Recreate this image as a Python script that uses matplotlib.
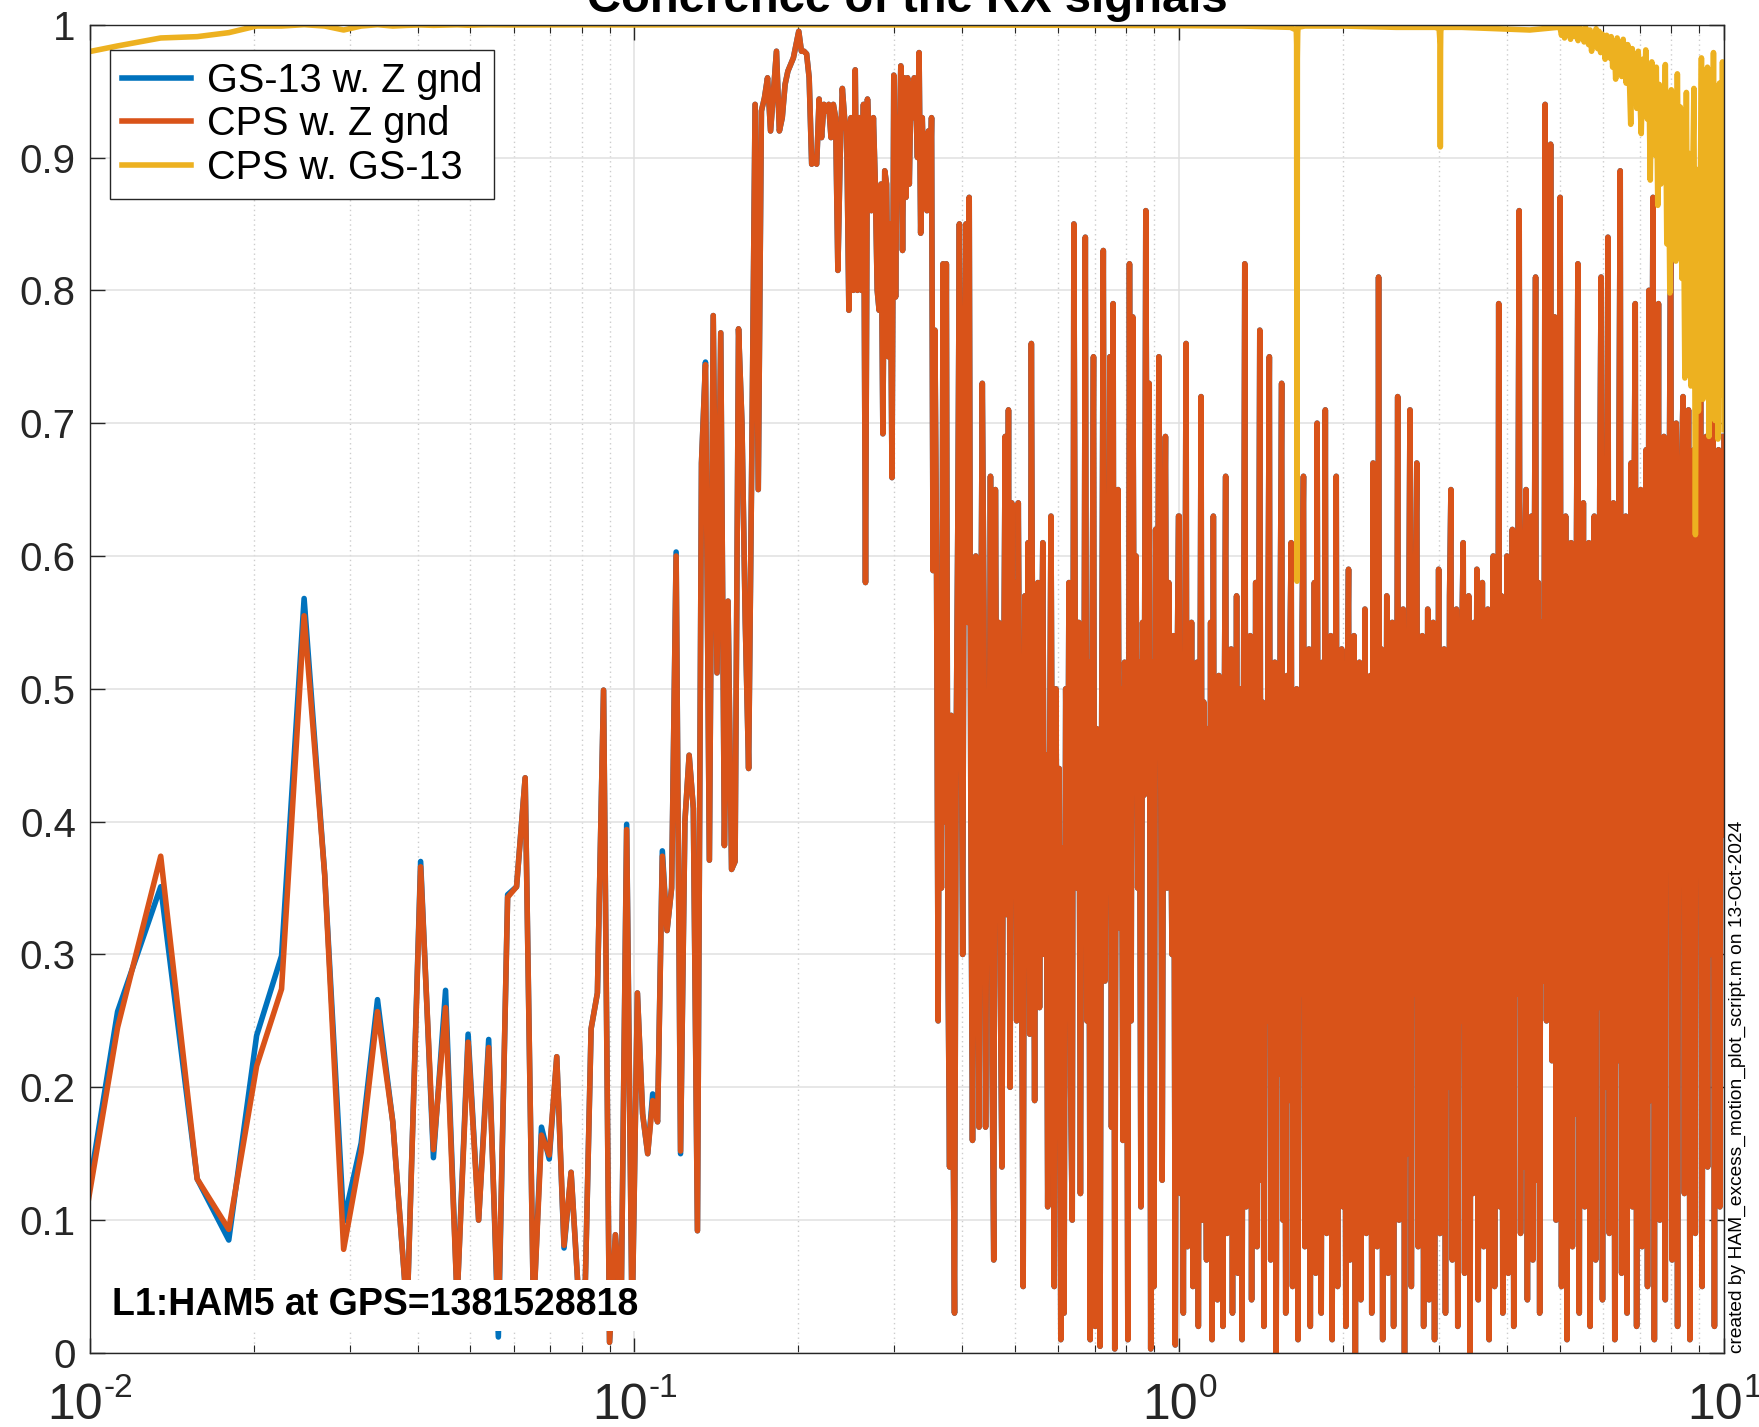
import numpy as np
import matplotlib
matplotlib.use('Agg')
import matplotlib.pyplot as plt
from matplotlib.ticker import FixedLocator, LogLocator, NullFormatter, NullLocator
from matplotlib.transforms import blended_transform_factory, offset_copy

plt.rcParams['font.family'] = ['Liberation Sans', 'DejaVu Sans']

BLUE = '#0072BD'
ORANGE = '#D95319'
YELLOW = '#EDB120'
INK = '#262626'

DF = 0.00225  # bin width of the coherence estimate (Hz)

# --- low frequency bins, k = 4 .. 157 (f = k * DF) ---
orange_lo = [
    0.01, 0.245, 0.374, 0.131, 0.093, 0.216, 0.274, 0.555, 0.36, 0.078,
    0.151, 0.257, 0.174, 0.03, 0.366, 0.153, 0.26, 0.04, 0.234, 0.10,
    0.23, 0.02, 0.343, 0.351, 0.433, 0.03, 0.164, 0.149, 0.223, 0.081,
    0.136, 0.05, 0.03, 0.244, 0.271, 0.499, 0.008, 0.089, 0.03, 0.394,
    0.02, 0.271, 0.18, 0.15, 0.19, 0.174, 0.374, 0.318, 0.35, 0.60,
    0.152, 0.40, 0.45, 0.41, 0.092, 0.67, 0.744, 0.371, 0.781, 0.512,
    0.768, 0.382, 0.566, 0.364, 0.37, 0.771, 0.70, 0.55, 0.44, 0.68,
    0.94, 0.65, 0.935, 0.945, 0.96, 0.92, 0.95, 0.98, 0.92, 0.93,
    0.955, 0.965, 0.97, 0.975, 0.985, 0.995, 0.98, 0.98, 0.978, 0.96,
    0.895, 0.897, 0.895, 0.944, 0.915, 0.94, 0.935, 0.94, 0.915, 0.94,
    0.93, 0.815, 0.90, 0.952, 0.93, 0.92, 0.785, 0.93, 0.80, 0.966,
    0.80, 0.93, 0.80, 0.94, 0.58, 0.944, 0.90, 0.86, 0.93, 0.88,
    0.80, 0.785, 0.88, 0.692, 0.89, 0.88, 0.75, 0.85, 0.659, 0.962,
    0.795, 0.93, 0.90, 0.969, 0.83, 0.96, 0.87, 0.96, 0.88, 0.955,
    0.93, 0.96, 0.94, 0.90, 0.979, 0.843, 0.93, 0.88, 0.91, 0.86,
    0.92, 0.86, 0.93, 0.589,
]

# GS-13 vs ground, k = 4 .. 60 (above that it sits under the CPS curve)
blue_lo = [
    0.01, 0.257, 0.351, 0.131, 0.085, 0.239, 0.299, 0.568, 0.36, 0.099,
    0.158, 0.266, 0.174, 0.03, 0.370, 0.147, 0.273, 0.04, 0.24, 0.10,
    0.236, 0.012, 0.345, 0.351, 0.433, 0.03, 0.17, 0.146, 0.223, 0.079,
    0.136, 0.05, 0.03, 0.244, 0.271, 0.499, 0.008, 0.089, 0.03, 0.398,
    0.02, 0.271, 0.18, 0.15, 0.195, 0.174, 0.378, 0.318, 0.35, 0.603,
    0.15, 0.40, 0.45, 0.41, 0.092, 0.67, 0.746,
]

# --- 0.356 .. 1 Hz, coherence in percent ---
orange_mid = [
    77, 60, 25, 56, 35, 82, 40, 82, 30, 14,
    48, 20, 3, 45, 62, 85, 52, 30, 70, 85,
    55, 87, 40, 16, 38, 60, 45, 17, 50, 73,
    56, 17, 45, 30, 66, 22, 7, 65, 40, 55,
    28, 14, 48, 69, 33, 71, 20, 64, 38, 58,
    25, 64, 42, 30, 5, 57, 35, 61, 24, 76,
    44, 19, 52, 58, 26, 48, 61, 30, 45, 11,
    40, 63, 33, 5, 50, 28, 44, 1, 38, 3,
    50, 30, 58, 20, 10, 85, 48, 35, 55, 12,
    50, 37, 84, 25, 52, 1, 49, 75, 2, 47,
    30, 0.5, 47, 83, 28, 50, 36, 75, 17, 79,
    0.3, 55, 65, 32, 50, 16, 52, 46, 1, 82,
    25, 78, 45, 60, 35, 52, 11, 55, 42, 86,
    50, 73, 0.3, 52, 5, 62, 45, 75, 48, 13,
    52, 69, 35, 58, 46, 30, 54, 0.6, 48, 63,
]

# --- 1 .. 10 Hz, coherence in percent ---
orange_hi = [
    63, 12, 48, 3, 44, 76, 8, 50, 22, 55, 5, 46, 18, 52, 2, 41, 72, 10, 49, 26,
    7, 47, 15, 55, 1, 63, 20, 45, 4, 51, 12, 43, 2, 48, 66, 9, 46, 18, 53, 3,
    48, 14, 57, 6, 44, 50, 1, 45, 82, 11, 49, 24, 54, 4, 46, 17, 58, 8, 47, 77,
    13, 49, 2, 45, 25, 54, 75, 7, 48, 16, 52, 0, 44, 21, 56, 73, 10, 47, 3, 51,
    19, 52, 61, 5, 46, 14, 50, 1, 47, 27, 55, 66, 8, 45, 18, 53, 2, 49, 12, 58,
    6, 70, 23, 48, 3, 52, 15, 71, 9, 46, 26, 54, 1, 49, 17, 66, 5, 45, 21, 53,
    11, 50, 2, 47, 59, 7, 45, 19, 54, 0, 48, 26, 52, 4, 46, 14, 56, 9, 50, 22,
    51, 3, 67, 16, 48, 8, 81, 24, 53, 1, 47, 18, 57, 6, 50, 12, 55, 2, 48, 29,
    72, 10, 49, 21, 56, 0, 46, 15, 52, 71, 5, 48, 27, 58, 67, 8, 51, 13, 54, 2,
    47, 23, 56, 4, 51, 17, 55, 1, 48, 28, 59, 9, 50, 14, 53, 3, 49, 20, 57, 65,
    7, 52, 16, 56, 2, 49, 25, 54, 61, 6, 48, 19, 57, 0, 51, 12, 55, 24, 59, 4,
    50, 15, 58, 8, 53, 22, 56, 1, 52, 30, 60, 5, 51, 18, 79, 11, 57, 3, 54, 26,
    60, 6, 54, 19, 62, 2, 57, 27, 58, 86, 9, 55, 14, 60, 65, 4, 57, 23, 63, 7,
    56, 81, 13, 58, 3, 55, 28, 36, 94, 25, 60, 31, 91, 22, 61, 78, 10, 59, 17, 87,
    5, 58, 21, 63, 1, 59, 29, 61, 8, 57, 18, 62, 82, 3, 60, 24, 64, 11, 58, 30,
    61, 2, 59, 16, 63, 7, 58, 26, 65, 81, 4, 60, 20, 62, 84, 9, 59, 33, 64, 1,
    60, 22, 66, 89, 6, 61, 28, 63, 3, 59, 37, 67, 11, 60, 79, 2, 62, 25, 65, 8,
    61, 31, 68, 5, 80, 19, 64, 87, 1, 62, 34, 79, 10, 63, 27, 69, 4, 61, 38, 66,
    88, 7, 64, 29, 70, 2, 63, 41, 67, 72, 12, 65, 33, 71, 1, 63, 24, 68, 9, 65,
    36, 70, 74, 5, 64, 43, 69, 14, 67, 30, 72, 77, 2, 65, 47, 68, 11, 66, 39, 69,
]

# --- CPS vs GS-13 ---
yellow_lo = [  # k = 4 .. 24
    0.976, 0.984, 0.990, 0.991, 0.994, 0.999, 0.999, 1.0, 0.999, 0.996,
    0.999, 1.0, 0.999, 0.9995, 0.9998, 0.9995, 0.9997, 0.9999, 0.9996, 0.9998,
    0.9999,
]
yellow_mid_f = [
    0.06, 0.08, 0.1, 0.14, 0.2, 0.3, 0.45, 0.7, 1.0, 1.3,
    1.6, 1.64, 1.6425, 1.645, 1.6475, 1.65, 1.6525, 1.7, 2.0, 2.5,
    2.95, 3.0, 3.0125, 3.015, 3.0175, 3.02, 3.0225, 3.035, 3.3, 3.8,
    4.4, 4.95,
]
yellow_mid = [
    0.9998, 0.9999, 0.9998, 0.9999, 0.9999, 0.9998, 0.9997, 0.9995, 0.9993, 0.999,
    0.998, 0.996, 0.985, 0.581, 0.975, 0.994, 0.998, 0.999, 0.999, 0.998,
    0.998, 0.997, 0.985, 0.908, 0.98, 0.994, 0.997, 0.998, 0.998, 0.997,
    0.996, 0.998,
]
yellow_hi = [  # 5 .. 10 Hz, percent
    99.8, 99.2, 99.9, 99.0, 99.7, 99.4, 99.9, 98.9, 99.6, 99.8, 99.1, 99.7, 98.8, 99.9, 99.3, 99.6,
    98.7, 99.8, 99.2, 98.5, 99.6, 98.0, 99.4, 99.0, 99.7, 98.2, 99.5, 97.9, 99.3, 98.8, 97.4,
    99.2, 98.0, 97.5, 99.1, 96.8, 98.7, 95.9, 99.0, 97.3, 98.4, 96.1, 98.9, 97.0, 95.6, 98.5,
    96.4, 92.5, 98.2, 95.8, 97.6, 93.7, 98.0, 95.0, 91.8, 97.4, 94.3, 98.1, 92.9, 96.6, 88.3,
    97.2, 93.5, 90.2, 96.8, 86.4, 95.5, 88.0, 94.0, 89.7, 97.0, 83.5, 92.6, 79.8, 95.1, 87.0,
    91.4, 82.2, 96.3, 85.6, 93.8, 80.9, 88.7, 73.4, 94.9, 76.5, 90.3, 72.8, 86.9, 95.2, 61.6,
    89.1, 70.9, 84.0, 97.5, 71.8, 87.5, 76.2, 96.8, 69.0, 83.3, 74.5, 97.9, 70.2, 86.1, 68.8,
    95.6, 72.1, 97.2, 69.5,
]

legend_labels = ['GS-13 w. Z gnd', 'CPS w. Z gnd', 'CPS w. GS-13']
decades = [0.01, 0.1, 1, 10]
exponents = ['-2', '-1', '0', '1']

# frequency axes
f_lo = np.arange(4, 4 + len(orange_lo)) * DF
f_mid = np.geomspace(0.356, 0.997, len(orange_mid))
f_hi = np.geomspace(1.0, 10.0, len(orange_hi))
freq = np.concatenate([f_lo, f_mid, f_hi])

coh_cps = np.concatenate([orange_lo, np.array(orange_mid) / 100, np.array(orange_hi) / 100])
coh_gs = np.concatenate([blue_lo, coh_cps[len(blue_lo):]])

f_y = np.concatenate([np.arange(4, 4 + len(yellow_lo)) * DF, yellow_mid_f,
                      np.geomspace(5.0, 10.0, len(yellow_hi))])
coh_y = np.concatenate([yellow_lo, yellow_mid, np.array(yellow_hi) / 100])

fig = plt.figure(figsize=(17.59, 14.27), dpi=100)
ax = fig.add_axes([0.0510, 0.0519, 0.9291, 0.9308])

lw = 4.0
l1, = ax.semilogx(freq, coh_gs, color=BLUE, lw=lw, zorder=2)
l2, = ax.semilogx(freq, coh_cps, color=ORANGE, lw=lw, zorder=2.1)
l3, = ax.semilogx(f_y, coh_y, color=YELLOW, lw=lw, zorder=2.2)

ax.set_xlim(0.01, 10)
ax.set_ylim(0, 1)

ax.xaxis.set_major_locator(FixedLocator(decades))
ax.xaxis.set_major_formatter(NullFormatter())
ax.xaxis.set_minor_locator(LogLocator(base=10, subs=np.arange(2, 10)))
ax.xaxis.set_minor_formatter(NullFormatter())
yt = np.round(np.arange(0, 1.01, 0.1), 1)
ax.set_yticks(yt)
ax.set_yticklabels(['%g' % v for v in yt])
ax.yaxis.set_minor_locator(NullLocator())

ax.tick_params(which='both', direction='in', top=True, right=True, color=INK)
ax.tick_params(which='major', length=11, width=1.0)
ax.tick_params(which='minor', length=5.5, width=0.8)
ax.tick_params(axis='y', labelsize=29, labelcolor=INK, pad=10)
for sp in ax.spines.values():
    sp.set_color(INK)
    sp.set_linewidth(1.0)

# decade labels 10^n, drawn as base + raised exponent (MATLAB look)
base_fs, sup_fs = 36, 24
base_w = 1.112 * base_fs  # width of "10" in points
xtrans = blended_transform_factory(ax.transData, ax.transAxes)
for v, e in zip(decades, exponents):
    sup_w = sup_fs * sum(0.333 if c == '-' else 0.556 for c in e)
    dx = (base_w - sup_w) / 2
    ax.text(v, 0, '10', fontsize=base_fs, color=INK, ha='right', va='baseline',
            transform=offset_copy(xtrans, fig=fig, x=dx, y=-47.5, units='points'))
    ax.text(v, 0, e, fontsize=sup_fs, color=INK, ha='left', va='baseline',
            transform=offset_copy(xtrans, fig=fig, x=dx + 0.5, y=-31.5, units='points'))

ax.set_axisbelow(True)
ax.grid(which='major', color='#e0e0e0', lw=1.1)
ax.grid(which='minor', axis='x', color='#cccccc', lw=1.0, ls=(0, (1, 2.5)))

leg = ax.legend([l1, l2, l3], legend_labels, loc='upper left',
                bbox_to_anchor=(0.0124, 0.981), borderaxespad=0, fontsize=28.5,
                frameon=True, fancybox=False, framealpha=1, edgecolor=INK,
                handlelength=1.75, handletextpad=0.4, labelspacing=0.14,
                borderpad=0.3)
leg.get_frame().set_linewidth(1.0)
leg.set_zorder(10)

ax.text(0.0137, 0.036, 'L1:HAM5 at GPS=1381528818', transform=ax.transAxes,
        fontsize=27, fontweight='bold', ha='left', va='center', zorder=6,
        bbox=dict(boxstyle='square,pad=0.2', fc='white', ec='none'))

fig.text(0.5156, 0.9916, 'Coherence of the RX signals', ha='center',
         va='baseline', fontsize=34, fontweight='bold')
fig.text(0.9875, 0.0519, 'created by HAM_excess_motion_plot_script.m on 13-Oct-2024',
         rotation=90, ha='center', va='bottom', fontsize=13.8)

fig.savefig('out.png', dpi=100)
